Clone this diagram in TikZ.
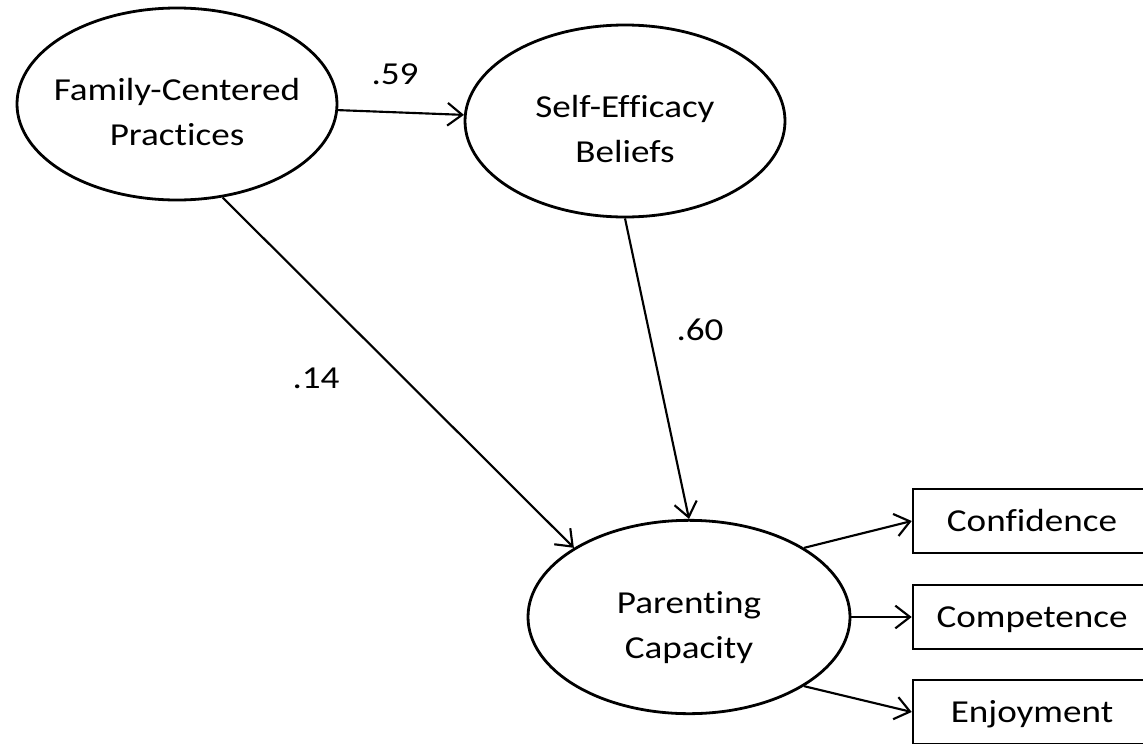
\documentclass[tikz,border=0pt]{standalone}
\usepackage{fontspec}
\setmainfont{Carlito}[FakeStretch=1.16, Ligatures=NoCommon]
\usetikzlibrary{arrows.meta,shapes.geometric}
\tikzset{
  txt/.style={font=\fontsize{24pt}{33.75pt}\selectfont, align=center},
  latent/.style={ellipse, draw, line width=2.1pt, inner ysep=0pt, inner xsep=-30pt, txt,
    minimum width=240pt, minimum height=144pt, text height=61.5pt, text depth=0pt},
  indicator/.style={rectangle, draw, line width=1.9pt, inner sep=0pt, txt,
    minimum width=178.5pt, minimum height=48pt, text height=15pt, text depth=0pt},
  path arrow/.style={line width=1.6pt, -{Straight Barb[length=11pt,width=17pt,line width=1.6pt]}},
  coef/.style={txt, inner sep=0pt}
}
\begin{document}
\begin{tikzpicture}[x=0.75pt,y=-0.75pt]
\useasboundingbox (0,0) rectangle (1143,743);
\clip (0,0) rectangle (1143,743);
\node[latent] (fcp) at (177,104) {Family-Centered\\Practices};
\node[latent] (seb) at (625,121) {Self-Efficacy\\Beliefs};
\node[latent, minimum width=241.5pt, minimum height=145pt] (pc) at (689,617) {Parenting\\Capacity};
\node[indicator] (conf) at (1032,521) {Confidence};
\node[indicator] (comp) at (1032,617) {Competence};
\node[indicator] (enj) at (1032,712) {Enjoyment};
\draw[path arrow] (fcp) -- (seb);
\draw[path arrow] (fcp.-64) -- (pc.149);
\draw[path arrow] (seb.south) -- (pc.north);
\draw[path arrow] (pc.31) -- (conf.west);
\draw[path arrow] (pc.east) -- (comp.west);
\draw[path arrow] (pc.-31) -- (enj.west);
\node[coef] (c59) at (395,74) {.59};
\node[coef] (c60) at (700,330) {.60};
\node[coef] (c14) at (316,378) {.14};
\end{tikzpicture}
\end{document}
